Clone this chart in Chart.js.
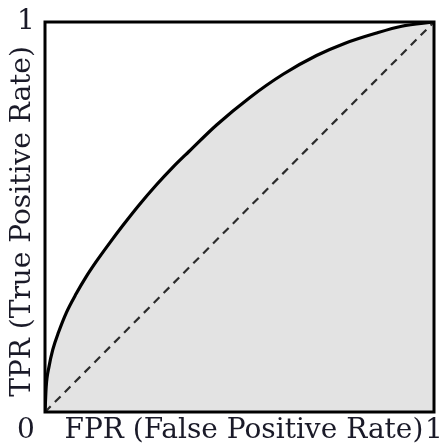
<!DOCTYPE html>
<html><head><meta charset="utf-8">
<script src="https://cdn.jsdelivr.net/npm/chart.js@4.4.0/dist/chart.umd.min.js"></script>
<style>html,body{margin:0;padding:0;background:#fff;overflow:hidden}#wrap{width:440px;height:443px}</style>
</head><body><div id="wrap"><canvas id="c" width="440" height="443"></canvas></div>
<script>
// ROC curve values
const fpr = [0, 0.003, 0.01, 0.02, 0.035, 0.055, 0.08, 0.106, 0.132, 0.166, 0.2, 0.243, 0.286, 0.329, 0.37, 0.441, 0.526, 0.612, 0.698, 0.77, 0.85, 0.917, 1];
const tpr = [0, 0.065, 0.115, 0.16, 0.205, 0.255, 0.303, 0.347, 0.386, 0.433, 0.478, 0.532, 0.582, 0.628, 0.668, 0.736, 0.806, 0.866, 0.914, 0.945, 0.971, 0.989, 1];
// chance diagonal
const diagX = [0, 1];
const diagY = [0, 1];
// tick labels
const xTickValues = [1];
const xTickLabels = ['1'];
const yTickValues = [1];
const yTickLabels = ['1'];
const cornerLabel = '0';
const xTitle = ' FPR (False Positive Rate)';
const yTitle = 'TPR (True Positive Rate) ';

const FAMILY = '"DejaVu Serif", serif';
const FONT = {family: FAMILY, size: 28, lineHeight: 1};
const TEXT = '#1a1a28';
const X_TICK_PAD = 5;
const Y_LABEL_GAP = 19;

const framePlugin = {
  id: 'frameAndTicks',
  afterDatasetsDraw(chart) {
    const {ctx, chartArea: a} = chart;
    ctx.save();
    ctx.strokeStyle = '#000';
    ctx.lineWidth = 3;
    ctx.strokeRect(a.left, a.top, a.right - a.left, a.bottom - a.top);
    ctx.restore();
  },
  afterDraw(chart) {
    const {ctx, chartArea, scales} = chart;
    ctx.save();
    ctx.font = `${FONT.size}px ${FAMILY}`;
    ctx.fillStyle = TEXT;
    ctx.textAlign = 'center';
    ctx.textBaseline = 'middle';
    const yLabelX = chartArea.left - Y_LABEL_GAP;
    yTickValues.forEach((v, i) => ctx.fillText(yTickLabels[i], yLabelX, scales.y.getPixelForValue(v)));
    ctx.textBaseline = 'top';
    xTickValues.forEach((v, i) => ctx.fillText(xTickLabels[i], scales.x.getPixelForValue(v), chartArea.bottom + X_TICK_PAD));
    ctx.fillText(cornerLabel, yLabelX, chartArea.bottom + X_TICK_PAD);
    ctx.restore();
  }
};

new Chart(document.getElementById('c'), {
  type: 'line',
  data: {
    datasets: [
      {
        data: diagX.map((x, i) => ({x, y: diagY[i]})),
        borderColor: '#2b2b2b', borderWidth: 2.2, borderDash: [8, 6],
        pointRadius: 0, fill: false, order: 0
      },
      {
        data: fpr.map((x, i) => ({x, y: tpr[i]})),
        borderColor: '#000', borderWidth: 3.2, pointRadius: 0,
        fill: 'origin', backgroundColor: '#e3e3e3',
        cubicInterpolationMode: 'monotone', order: 1
      }
    ]
  },
  options: {
    responsive: false, animation: false, devicePixelRatio: 1,
    layout: {padding: {top: 22, right: 6, left: 0, bottom: 0}},
    plugins: {legend: {display: false}, tooltip: {enabled: false}},
    scales: {
      x: {
        type: 'linear', min: 0, max: 1, position: 'bottom',
        grid: {display: false, drawTicks: false},
        border: {display: false},
        ticks: {display: false},
        title: {display: true, text: xTitle, font: FONT, color: TEXT, padding: {top: 0, bottom: -1.5}},
        afterFit: s => { s.height = 31; }
      },
      y: {
        type: 'linear', min: 0, max: 1, position: 'left',
        grid: {display: false, drawTicks: false},
        border: {display: false},
        ticks: {display: false},
        title: {display: true, text: yTitle, font: FONT, color: TEXT, padding: {top: 9, bottom: 0}},
        afterFit: s => { s.width = 45; }
      }
    }
  },
  plugins: [framePlugin]
});
</script>
</body></html>
